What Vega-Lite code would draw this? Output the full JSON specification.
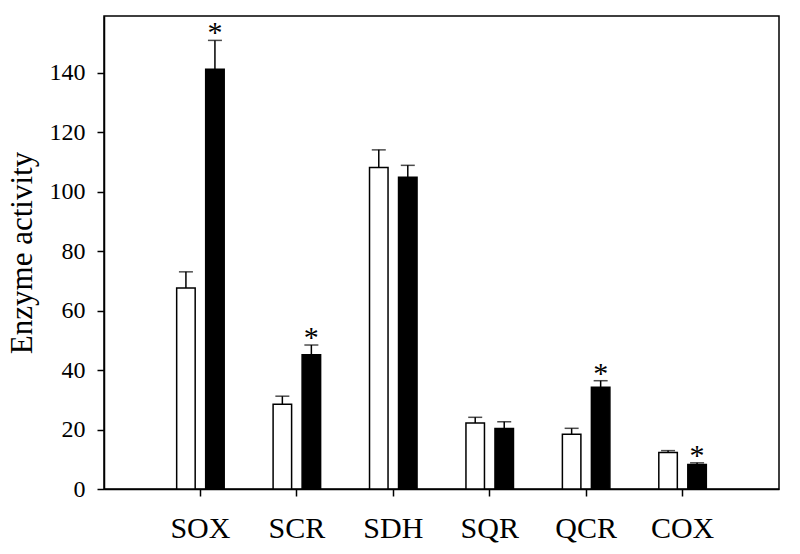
{
  "$schema": "https://vega.github.io/schema/vega-lite/v6.json",
  "autosize": {"type": "none"},
  "padding": {"left": 104, "top": 16, "right": 21, "bottom": 65},
  "width": 675,
  "height": 473,
  "background": "white",
  "config": {
    "view": {"stroke": "black", "strokeWidth": 1.5},
    "font": "Liberation Serif",
    "axis": {
      "domainColor": "black", "domainWidth": 1.5,
      "tickColor": "black", "tickWidth": 1.5, "tickSize": 7,
      "labelColor": "black", "titleColor": "black",
      "labelFont": "Liberation Serif", "titleFont": "Liberation Serif",
      "grid": false
    }
  },
  "data": {
    "values": [
      {"enzyme": "SOX", "group": "control", "value": 67.6, "upper": 73.0, "sig": ""},
      {"enzyme": "SOX", "group": "treated", "value": 141.1, "upper": 150.8, "sig": "*"},
      {"enzyme": "SCR", "group": "control", "value": 28.5, "upper": 31.2, "sig": ""},
      {"enzyme": "SCR", "group": "treated", "value": 45.1, "upper": 48.4, "sig": "*"},
      {"enzyme": "SDH", "group": "control", "value": 108.1, "upper": 114.0, "sig": ""},
      {"enzyme": "SDH", "group": "treated", "value": 104.8, "upper": 108.8, "sig": ""},
      {"enzyme": "SQR", "group": "control", "value": 22.2, "upper": 24.1, "sig": ""},
      {"enzyme": "SQR", "group": "treated", "value": 20.3, "upper": 22.6, "sig": ""},
      {"enzyme": "QCR", "group": "control", "value": 18.4, "upper": 20.4, "sig": ""},
      {"enzyme": "QCR", "group": "treated", "value": 34.2, "upper": 36.4, "sig": "*"},
      {"enzyme": "COX", "group": "control", "value": 12.3, "upper": 12.9, "sig": ""},
      {"enzyme": "COX", "group": "treated", "value": 8.2, "upper": 8.8, "sig": "*"}
    ]
  },
  "encoding": {
    "x": {
      "field": "enzyme", "type": "nominal", "sort": null,
      "scale": {"paddingInner": 0, "paddingOuter": 0.5},
      "axis": {"title": null, "labelAngle": 0, "labelFontSize": 30, "labelPadding": 17}
    },
    "xOffset": {
      "field": "group", "type": "nominal", "sort": ["control", "treated"],
      "scale": {"paddingInner": 0.362, "paddingOuter": 0.843}
    }
  },
  "layer": [
    {
      "mark": {"type": "rule", "color": "black", "strokeWidth": 1.5},
      "encoding": {
        "y": {"field": "value", "type": "quantitative"},
        "y2": {"field": "upper"}
      }
    },
    {
      "mark": {"type": "tick", "color": "black", "thickness": 1.5, "size": 14, "orient": "horizontal"},
      "encoding": {
        "y": {"field": "upper", "type": "quantitative"}
      }
    },
    {
      "mark": {"type": "bar", "stroke": "black", "strokeWidth": 1.5},
      "encoding": {
        "y": {
          "field": "value", "type": "quantitative",
          "scale": {"domain": [0, 159], "nice": false},
          "axis": {
            "title": "Enzyme activity", "values": [0, 20, 40, 60, 80, 100, 120, 140],
            "labelFontSize": 24, "labelPadding": 12,
            "titleFontSize": 31, "titleFontWeight": "normal",
            "titleX": -73, "titleY": 236.5, "titleBaseline": "alphabetic", "titleAngle": -90
          }
        },
        "fill": {
          "field": "group", "type": "nominal",
          "scale": {"domain": ["control", "treated"], "range": ["white", "black"]},
          "legend": null
        }
      }
    },
    {
      "mark": {"type": "text", "fontSize": 30, "baseline": "alphabetic", "dy": 2, "color": "black"},
      "encoding": {
        "y": {"field": "upper", "type": "quantitative"},
        "text": {"field": "sig"}
      }
    }
  ]
}
